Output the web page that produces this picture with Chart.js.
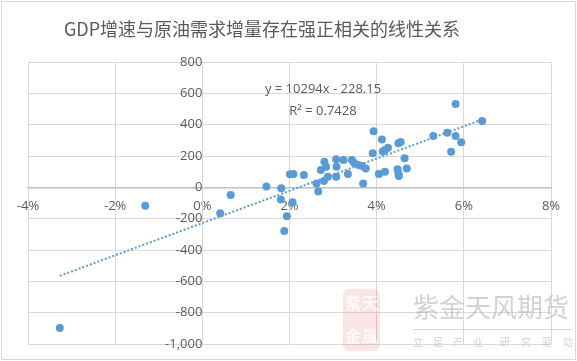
<!DOCTYPE html>
<html>
<head>
<meta charset="utf-8">
<script src="https://cdn.jsdelivr.net/npm/chart.js@4.4.1/dist/chart.umd.min.js"></script>
<style>
    html, body { margin: 0; padding: 0; background: #fff; }
    canvas { display: block; }
</style>
</head>
<body>
<canvas id="gdpOilChart" width="577" height="361"></canvas>
<script>
// Título e textos
const chartTitle = 'GDP增速与原油需求增量存在强正相关的线性关系';
const equationText = 'y = 10294x - 228.15';
const r2Text = 'R² = 0.7428';

// GDP增速 (%) e 原油需求增量
const gdpGrowth = [
    -3.27, -1.31, 0.41, 0.65, 1.47, 1.81, 1.80, 2.07, 1.94, 1.88,
    2.01, 2.09, 2.33, 2.62, 2.66, 2.72, 2.80, 2.84, 2.88, 2.79,
    3.07, 3.08, 3.07, 3.24, 3.34, 3.43, 3.48, 3.58, 3.66, 3.75,
    3.69, 3.91, 3.93, 4.12, 4.14, 4.19, 4.26, 4.05, 4.19, 4.50,
    4.55, 4.64, 4.69, 4.48, 4.50, 4.51, 5.30, 5.62, 5.81, 5.81,
    5.94, 5.71, 6.42
];
const oilDemandChange = [
    -898, -118, -166, -49, 6, -6, -77, -96, -185, -279,
    83, 85, 79, 25, -27, 110, 163, 132, 68, 40,
    180, 132, 68, 174, 85, 174, 157, 143, 136, 121,
    25, 217, 358, 306, 228, 239, 252, 85, 100, 281,
    289, 185, 121, 115, 89, 72, 327, 348, 532, 327,
    287, 227, 424
];

// Linha de tendência (equação do gráfico)
const trendSlope = 10294;
const trendIntercept = -228.15;

// Eixos
const xMin = -4, xMax = 8, xStep = 2;
const yMin = -1000, yMax = 800, yStep = 200;

const blue = '#5B9BD5';
const gridColor = '#D9D9D9';
const textColor = '#595959';

const points = gdpGrowth.map((x, i) => ({ x, y: oilDemandChange[i] }));
const trendStart = Math.min(...gdpGrowth);
const trendEnd = Math.max(...gdpGrowth);
const trendPoints = [trendStart, trendEnd].map(x => ({ x, y: trendSlope * x / 100 + trendIntercept }));

// Título, bordas, equação e marca d'água
const decorations = {
    id: 'decorations',
    beforeDraw(chart) {
        const c = chart.ctx;
        c.save();
        c.fillStyle = '#fff';
        c.fillRect(0, 0, chart.width, chart.height);
        c.strokeStyle = gridColor;
        c.lineWidth = 1;
        c.strokeRect(1.5, 1.5, chart.width - 3, chart.height - 3);
        c.restore();
    },
    afterDraw(chart) {
        const c = chart.ctx;
        c.save();
        c.fillStyle = textColor;
        c.textAlign = 'center';
        c.textBaseline = 'middle';
        c.font = '18px "Noto Sans CJK SC"';
        c.fillText(chartTitle, 262, 29);

        c.font = '13px "Open Sans"';
        c.fillText(equationText, 323, 89);
        c.fillText(r2Text, 323, 111);

        // marca d'água
        c.globalAlpha = 0.14;
        c.fillStyle = '#D94040';
        c.beginPath();
        c.roundRect(343, 289, 37, 62, 6);
        c.fill();
        c.globalAlpha = 0.8;
        c.fillStyle = '#fff';
        c.font = 'bold 16px "Noto Sans CJK SC"';
        c.fillText('紫', 353, 303);
        c.fillText('天', 370, 303);
        c.fillText('金', 353, 336);
        c.fillText('風', 370, 336);
        c.globalAlpha = 1;

        c.fillStyle = 'rgba(180,180,180,0.6)';
        c.font = '26px "Noto Sans CJK SC"';
        c.textAlign = 'left';
        c.fillText('紫金天风期货', 413, 307);
        c.strokeStyle = 'rgba(200,200,200,0.7)';
        c.beginPath();
        c.moveTo(413, 329.5);
        c.lineTo(573, 329.5);
        c.stroke();
        c.font = '10px "Noto Sans CJK SC"';
        c.textAlign = 'center';
        const sub = ['立', '足', '产', '业', '研', '究', '驱', '动'];
        const subX = [418, 438, 458, 478, 505, 526, 547, 568];
        sub.forEach((ch, i) => c.fillText(ch, subX[i], 342));
        c.restore();
    }
};

const ctx = document.getElementById('gdpOilChart').getContext('2d');
const gdpOilChart = new Chart(ctx, {
    type: 'scatter',
    data: {
        datasets: [
            {
                label: '原油需求增量',
                data: points,
                backgroundColor: blue,
                borderWidth: 0,
                pointRadius: 4,
                pointHoverRadius: 4,
            },
            {
                label: '线性趋势',
                data: trendPoints,
                showLine: true,
                borderColor: blue,
                borderWidth: 2,
                borderDash: [2, 2],
                pointRadius: 0,
                fill: false,
            }
        ]
    },
    options: {
        responsive: false,
        animation: false,
        devicePixelRatio: 1,
        layout: { padding: { left: 28, right: 26, top: 62, bottom: 17 } },
        plugins: {
            legend: { display: false },
            title: { display: false },
            tooltip: { enabled: false },
        },
        scales: {
            x: {
                type: 'linear',
                position: { y: 0 },
                min: xMin,
                max: xMax,
                ticks: {
                    stepSize: xStep,
                    autoSkip: false,
                    maxRotation: 0,
                    padding: 11,
                    color: textColor,
                    font: { family: '"Open Sans"', size: 13 },
                    callback: v => v + '%',
                },
                grid: { color: gridColor, drawTicks: false },
                border: { color: '#BFBFBF', width: 1.5 },
                afterFit: s => { s.paddingLeft = 0; s.paddingRight = 0; },
            },
            y: {
                type: 'linear',
                position: { x: 0 },
                min: yMin,
                max: yMax,
                ticks: {
                    stepSize: yStep,
                    autoSkip: false,
                    padding: 17,
                    color: textColor,
                    font: { family: '"Open Sans"', size: 13 },
                    callback: v => v.toLocaleString('en-US'),
                },
                grid: { color: gridColor, drawTicks: false },
                border: { color: gridColor },
                afterFit: s => { s.paddingTop = 0; s.paddingBottom = 0; },
            }
        }
    },
    plugins: [decorations]
});
</script>
</body>
</html>
